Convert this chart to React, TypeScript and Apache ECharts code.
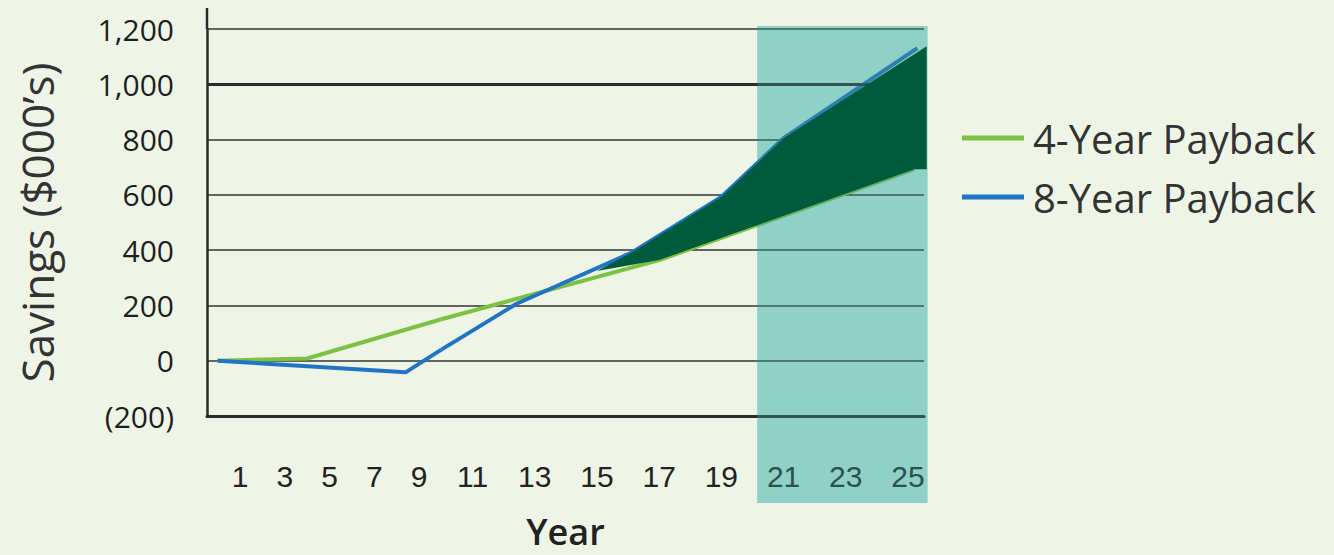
import React, { useEffect, useRef } from "react";
import * as echarts from "echarts";

// ---- data ----
const yearLabelsEarly = [1, 3, 5, 7, 9];
const yearLabelsLate = [11, 13, 15, 17, 19, 21, 23, 25];
const savingsMin = -200;
const savingsMax = 1200;
const savingsStep = 200;
const boldGridValue = 1000;

// [year, savings ($000's)] — the source axis is compressed for years 0–10
const payback4Early = [[0, 0], [4, 8], [10, 150]];
const payback4Late = [[10, 150], [17, 364], [25.2, 693]];
const payback8Early = [[0, 0], [8.4, -42], [10, 40]];
const payback8Late = [[10, 40], [12.4, 205], [16.1, 390], [19, 592], [21, 805], [25.3, 1131]];
const gapTop = [[15, 325], [16.1, 390], [19, 592], [21, 805], [25.6, 1138]];
const gapBottom = [[15, 325], [17, 364], [25.2, 693], [25.6, 693]];
const highlightYears = [20.15, 25.63];

const NAME4 = "4-Year Payback";
const NAME8 = "8-Year Payback";

// ---- layout ----
const GRID_LEFT = 207;
const GRID_TOP = 29;
const GRID_W = 717;
const GRID_H = 387;
const GRID_RIGHT_PX = GRID_LEFT + GRID_W;
// early segment: year 1 at px 240, 22.375 px/yr ; late segment: year 25 at px 908, 31.107 px/yr
const E_ANCHOR_YEAR = 1, E_ANCHOR_PX = 240, E_PPY = 22.375;
const L_ANCHOR_YEAR = 25, L_ANCHOR_PX = 908, L_PPY = 31.107;
const eMin = E_ANCHOR_YEAR - (E_ANCHOR_PX - GRID_LEFT) / E_PPY;
const eMax = E_ANCHOR_YEAR + (GRID_RIGHT_PX - E_ANCHOR_PX) / E_PPY;
const lMin = L_ANCHOR_YEAR - (L_ANCHOR_PX - GRID_LEFT) / L_PPY;
const lMax = L_ANCHOR_YEAR + (GRID_RIGHT_PX - L_ANCHOR_PX) / L_PPY;

const BG = "#eef5e6";
const GREEN = "#7cc242";
const BLUE = "#1f74c6";
const DARK = "#005b3d";
const INK = "#2b2b2b";
const TEAL_BASE = "rgb(198,248,237)";
const TEAL_TINT = "rgba(60,150,140,0.4)";

export default function App() {
  const ref = useRef<HTMLDivElement>(null);
  useEffect(() => {
    if (!ref.current) return;
    const chart = echarts.init(ref.current, null, { renderer: "svg" });
    const tickLabel = {
      fontFamily: "Liberation Sans",
      fontSize: 30,
      color: "#222",
      margin: 45,
    };
    const option: any = {
      animation: false,
      backgroundColor: BG,
      grid: { left: GRID_LEFT, top: GRID_TOP, width: GRID_W, height: GRID_H, containLabel: false },
      legend: {
        orient: "vertical",
        left: 962,
        top: 116,
        padding: 0,
        itemWidth: 62,
        itemHeight: 5,
        itemGap: 15,
        icon: "rect",
        data: [NAME4, NAME8],
        textStyle: { fontFamily: "Open Sans", fontSize: 40, color: "#333", lineHeight: 44, padding: [0, 0, 0, 4] },
      },
      xAxis: [
        {
          type: "value",
          min: eMin,
          max: eMax,
          position: "bottom",
          axisLine: { show: true, onZero: false, lineStyle: { color: INK, width: 3 } },
          axisTick: { show: false },
          splitLine: { show: false },
          axisLabel: { ...tickLabel, customValues: yearLabelsEarly },
        },
        {
          type: "value",
          min: lMin,
          max: lMax,
          position: "bottom",
          axisLine: { show: false, onZero: false },
          axisTick: { show: false },
          splitLine: { show: false },
          axisLabel: { ...tickLabel, customValues: yearLabelsLate },
          name: "Year",
          nameLocation: "middle",
          nameGap: 100,
          nameTextStyle: { fontFamily: "Open Sans", fontSize: 36, lineHeight: 30, fontWeight: 600, color: "#222" },
        },
      ],
      yAxis: {
        type: "value",
        min: savingsMin,
        max: savingsMax,
        interval: savingsStep,
        axisLine: { show: true, onZero: false, lineStyle: { color: INK, width: 2.5 } },
        axisTick: { show: false },
        splitLine: { lineStyle: { color: "#333", width: 1.6 } },
        axisLabel: {
          fontFamily: "Open Sans",
          fontSize: 30,
          color: "#1e1e1e",
          margin: 33,
          formatter: (v: number) => (v < 0 ? `(${-v})` : v.toLocaleString("en-US")),
        },
        name: "Savings ($000\u2019s)",
        nameLocation: "middle",
        nameRotate: 90,
        nameGap: 148,
        nameTextStyle: { fontFamily: "Open Sans", fontSize: 44, color: "#333" },
      },
      series: [
        {
          name: NAME4, type: "line", xAxisIndex: 0, data: payback4Early, symbol: "none",
          color: GREEN, lineStyle: { color: GREEN, width: 4 }, z: 3,
        },
        {
          name: NAME4, type: "line", xAxisIndex: 1, data: payback4Late, symbol: "none",
          color: GREEN, lineStyle: { color: GREEN, width: 4 }, z: 3,
          markLine: {
            silent: true, symbol: "none", label: { show: false },
            lineStyle: { color: INK, width: 3, type: "solid" },
            data: [{ yAxis: boldGridValue }],
          },
        },
        {
          name: NAME8, type: "line", xAxisIndex: 0, data: payback8Early, symbol: "none",
          color: BLUE, lineStyle: { color: BLUE, width: 4 }, z: 3,
        },
        {
          name: NAME8, type: "line", xAxisIndex: 1, data: payback8Late, symbol: "none",
          color: BLUE, lineStyle: { color: BLUE, width: 4 }, z: 3,
        },
        {
          name: "gap", type: "custom", xAxisIndex: 1, yAxisIndex: 0, z: 20, silent: true,
          data: [[gapTop[0][0], gapTop[0][1]]],
          renderItem: (_p: any, api: any) => {
            const pts = [...gapTop, ...gapBottom.slice().reverse()].map((p) => api.coord(p));
            return { type: "polygon", shape: { points: pts }, style: { fill: DARK } };
          },
        },
      ],
    };
    chart.setOption(option);
    const x0 = chart.convertToPixel({ xAxisIndex: 1 }, highlightYears[0]) as number;
    const x1 = chart.convertToPixel({ xAxisIndex: 1 }, highlightYears[1]) as number;
    chart.setOption({
      graphic: [
        {
          type: "rect", silent: true, z: -10,
          shape: { x: x0, y: 26, width: x1 - x0, height: 477 },
          style: { fill: TEAL_BASE },
        },
        {
          type: "line", silent: true, z: 5,
          shape: { x1: GRID_LEFT, y1: 8, x2: GRID_LEFT, y2: GRID_TOP },
          style: { stroke: INK, lineWidth: 2.5 },
        },
        {
          type: "rect", silent: true, z: 10,
          shape: { x: x0, y: 26, width: x1 - x0, height: 477 },
          style: { fill: TEAL_TINT },
        },
      ],
    });
    return () => chart.dispose();
  }, []);
  return (
    <div
      ref={ref}
      style={{ position: "fixed", left: 0, top: 0, width: 1334, height: 555 }}
    />
  );
}
